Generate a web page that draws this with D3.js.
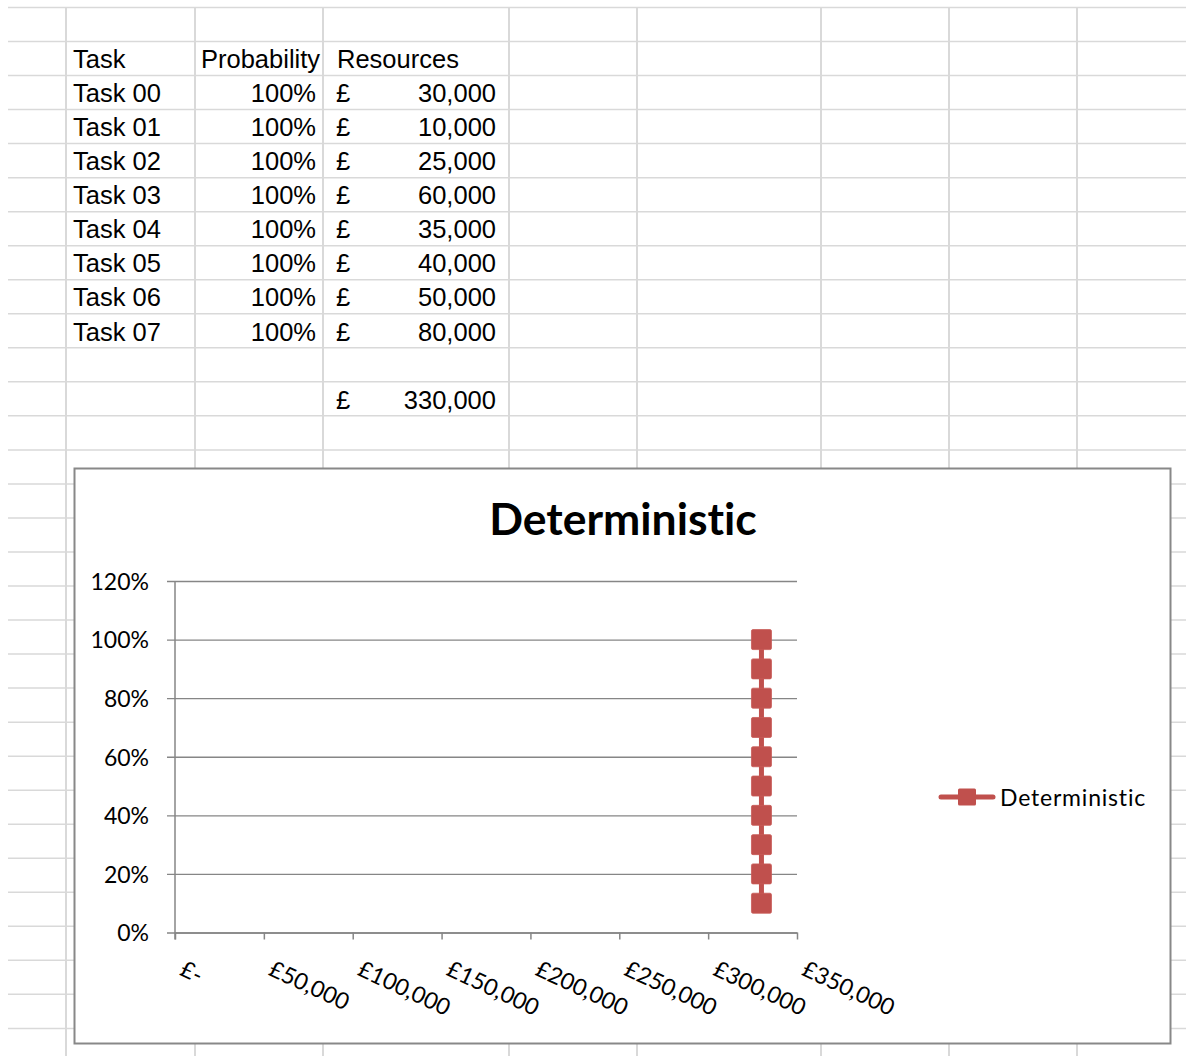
<!DOCTYPE html>
<html>
<head>
<meta charset="utf-8">
<script src="https://cdn.jsdelivr.net/npm/d3@7"></script>
<style>
  html, body { margin: 0; padding: 0; background: #fff; }
  svg { display: block; }
  text { font-variant-ligatures: none; }
</style>
</head>
<body>
<svg id="sheet" width="1186" height="1056"></svg>
<script>
// Worksheet data
const taskNames = ["Task 00", "Task 01", "Task 02", "Task 03", "Task 04", "Task 05", "Task 06", "Task 07"];
const taskProbability = [1, 1, 1, 1, 1, 1, 1, 1];
const taskResources = [30000, 10000, 25000, 60000, 35000, 40000, 50000, 80000];

// Chart series: cumulative probability against total cost
const seriesName = "Deterministic";
const seriesCost = [330000, 330000, 330000, 330000, 330000, 330000, 330000, 330000, 330000, 330000];
const seriesProb = [0.1, 0.2, 0.3, 0.4, 0.5, 0.6, 0.7, 0.8, 0.9, 1.0];

// Axis ticks
const xTicks = [0, 50000, 100000, 150000, 200000, 250000, 300000, 350000];
const yTicks = [0, 0.2, 0.4, 0.6, 0.8, 1.0, 1.2];

const svg = d3.select("#sheet");
const W = 1186, H = 1056;

// ---- spreadsheet grid ----
const rowTop = 7.5, rowH = 34.03;
const colEdges = [66, 195, 323, 509, 637, 821, 949, 1077];
const rowLines = d3.range(0, 31).map(i => rowTop + i * rowH).filter(y => y <= H);

const grid = svg.append("g").attr("stroke", "#d9d9d9");
grid.selectAll("line.h").data(rowLines).join("line")
  .attr("x1", 8).attr("x2", W).attr("y1", d => d).attr("y2", d => d)
  .attr("stroke-width", 1.5);
grid.selectAll("line.v").data(colEdges).join("line")
  .attr("x1", d => d).attr("x2", d => d).attr("y1", rowTop).attr("y2", H)
  .attr("stroke-width", 2);

// ---- table text ----
const fmtNum = d3.format(",");
const fmtPct = d3.format(".0%");
const cellFont = "'Liberation Sans', Arial, sans-serif";
const baseline = r => rowTop + (r + 1) * rowH - 7.3;
const table = svg.append("g")
  .attr("font-family", cellFont).attr("font-size", 25.5).attr("fill", "#000");

table.append("text").attr("x", 73).attr("y", baseline(1)).text("Task");
table.append("text").attr("x", 201).attr("y", baseline(1)).text("Probability");
table.append("text").attr("x", 337).attr("y", baseline(1)).text("Resources");

taskNames.forEach((name, i) => {
  const y = baseline(i + 2);
  table.append("text").attr("x", 73).attr("y", y).text(name);
  table.append("text").attr("x", 316).attr("y", y).attr("text-anchor", "end").text(fmtPct(taskProbability[i]));
  table.append("text").attr("x", 336).attr("y", y).text("£");
  table.append("text").attr("x", 496).attr("y", y).attr("text-anchor", "end").text(fmtNum(taskResources[i]));
});

const total = d3.sum(taskResources);
table.append("text").attr("x", 336).attr("y", baseline(11)).text("£");
table.append("text").attr("x", 496).attr("y", baseline(11)).attr("text-anchor", "end").text(fmtNum(total));

// ---- chart object ----
const chartFont = "Lato, 'Open Sans', sans-serif";
svg.append("rect")
  .attr("x", 74.5).attr("y", 468.5).attr("width", 1096).attr("height", 575)
  .attr("fill", "#fff").attr("stroke", "#888").attr("stroke-width", 2);

svg.append("text")
  .attr("x", 623).attr("y", 535)
  .attr("text-anchor", "middle")
  .attr("font-family", chartFont).attr("font-weight", 700).attr("font-size", 44.5)
  .attr("fill", "#000")
  .text(seriesName);

const plot = { left: 175, right: 797, top: 581, bottom: 932.5 };
const x = d3.scaleLinear().domain([0, 350000]).range([plot.left, plot.right]);
const y = d3.scaleLinear().domain([0, 1.2]).range([plot.bottom, plot.top]);

const axisColor = "#868686";

// horizontal gridlines with outward ticks (y axis)
const yAxis = d3.axisLeft(y).tickValues(yTicks).tickSize(-(plot.right - plot.left)).tickSizeOuter(0)
  .tickFormat(d => fmtPct(d));
const gy = svg.append("g").attr("transform", `translate(${plot.left},0)`).call(yAxis);
gy.select(".domain").remove();
gy.selectAll(".tick line").attr("x1", -8).attr("stroke", axisColor).attr("stroke-width", 1.3);
gy.selectAll(".tick text")
  .attr("x", -26).attr("dy", "0.36em")
  .attr("font-family", chartFont).attr("font-size", 23).attr("fill", "#000");

// y axis line
svg.append("line")
  .attr("x1", plot.left).attr("x2", plot.left).attr("y1", plot.top).attr("y2", plot.bottom + 7)
  .attr("stroke", axisColor).attr("stroke-width", 1.5);

// x axis
const xFmt = d => d === 0 ? "£-" : "£" + fmtNum(d);
const xAxis = d3.axisBottom(x).tickValues(xTicks).tickSize(7).tickSizeOuter(0).tickFormat(xFmt);
const gx = svg.append("g").attr("transform", `translate(0,${plot.bottom})`).call(xAxis);
gx.select(".domain").attr("stroke", axisColor).attr("stroke-width", 1.5);
gx.selectAll(".tick line").attr("stroke", axisColor).attr("stroke-width", 1.5);
gx.selectAll(".tick text")
  .attr("font-family", chartFont).attr("font-size", 23).attr("fill", "#000")
  .attr("text-anchor", "start").attr("dy", null).attr("y", null)
  .attr("transform", "translate(3,42) rotate(25)");

// series
const red = "#C0504D";
const pts = seriesCost.map((c, i) => ({ c, p: seriesProb[i] }));
svg.append("path")
  .datum(pts)
  .attr("d", d3.line().x(d => x(d.c)).y(d => y(d.p)))
  .attr("fill", "none").attr("stroke", red).attr("stroke-width", 5).attr("stroke-linecap", "round");
const ms = 20;
svg.selectAll("rect.marker").data(pts).join("rect")
  .attr("class", "marker")
  .attr("x", d => x(d.c) - ms / 2).attr("y", d => y(d.p) - ms / 2)
  .attr("width", ms).attr("height", ms).attr("rx", 1.5)
  .attr("fill", red).attr("stroke", "#c85a57").attr("stroke-width", 0.8);

// legend
const lg = svg.append("g").attr("transform", "translate(939,797)");
lg.append("line").attr("x1", 2).attr("x2", 54).attr("y1", 0).attr("y2", 0)
  .attr("stroke", red).attr("stroke-width", 5).attr("stroke-linecap", "round");
lg.append("rect").attr("x", 19).attr("y", -8.5).attr("width", 18).attr("height", 17).attr("rx", 1.5)
  .attr("fill", red);
lg.append("text").attr("x", 61).attr("y", 9)
  .attr("font-family", chartFont).attr("font-size", 23).attr("letter-spacing", 0.8).attr("fill", "#000")
  .text(seriesName);
</script>
</body>
</html>
